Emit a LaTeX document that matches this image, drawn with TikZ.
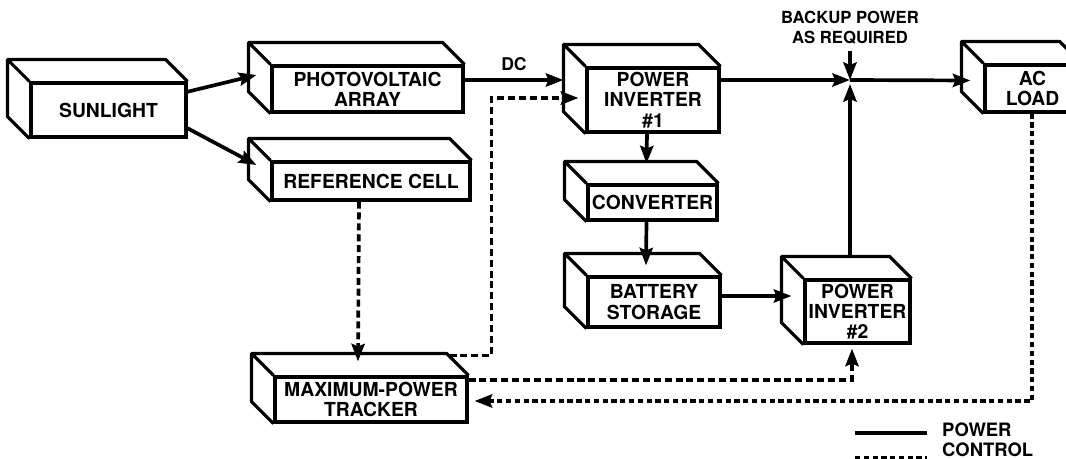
\documentclass[tikz,border=0pt]{standalone}
\usepackage{fontspec}
\setmainfont{TeX Gyre Heros}
\usetikzlibrary{arrows.meta}

\begin{document}
\begin{tikzpicture}[x=0.02cm, y=-0.02cm,
  block/.style={draw, line width=1.8pt, inner sep=0pt, align=center,
    font=\fontsize{11}{11.5}\selectfont\bfseries},
  face/.style={line width=1.8pt, line join=round},
  power/.style={line width=2.1pt, -{Stealth[length=10pt,width=7.5pt,inset=1.5pt]}},
  control/.style={power, dash pattern=on 4pt off 2.2pt},
  lbl/.style={font=\fontsize{9.5}{11.2}\selectfont\bfseries, align=center}]
\useasboundingbox (0,0) rectangle (1066,459);

% front faces of the blocks
\node[block, minimum width=3.10cm, minimum height=1.08cm] (sun) at (108.5,110) {SUNLIGHT};
\node[block, minimum width=3.82cm, minimum height=0.92cm] (pv) at (367.5,89) {PHOTOVOLTAIC\\ARRAY};
\node[block, minimum width=3.96cm, minimum height=0.76cm] (ref) at (371,181) {REFERENCE CELL};
\node[block, minimum width=2.64cm, minimum height=1.28cm] (inv1) at (653,100) {POWER\\INVERTER\\\#1};
\node[block, minimum width=2.58cm, minimum height=0.70cm] (conv) at (652.5,202.5) {CONVERTER};
\node[block, minimum width=2.64cm, minimum height=1.00cm] (bat) at (654,302) {BATTERY\\STORAGE};
\node[block, minimum width=2.10cm, minimum height=1.26cm] (inv2) at (857.5,311.5) {POWER\\INVERTER\\\#2};
\node[block, minimum width=3.84cm, minimum height=0.90cm] (mpt) at (371,399.5) {MAXIMUM-POWER\\TRACKER};
\node[block, minimum width=1.90cm, minimum height=0.94cm] (ac) at (1032.5,88.5) {AC\\LOAD};

% top and side faces
\foreach \n in {sun,pv,ref,inv1,conv,bat,inv2,mpt,ac}
  \draw[face] (\n.south west) -- ++(-22,-22) -- ([shift={(-22,-22)}]\n.north west)
    -- ([shift={(-22,-22)}]\n.north east) -- (\n.north east)
    (\n.north west) -- ++(-22,-22);

\node[lbl] (backup) at (850,28) {BACKUP POWER\\AS REQUIRED};
\coordinate (jn) at (850,80);

% power flow
\draw[power] (sun.13) -- ([shift={(-14,-14)}]pv.west);
\draw[power] (sun.-13) -- ([shift={(-14,-16)}]ref.west);
\draw[power] ([shift={(0,-9)}]pv.east) -- node[lbl, above=1pt, font=\fontsize{10}{11}\selectfont\bfseries] (dc) {DC} ([shift={(-22,-20)}]inv1.west);
\draw[power] ([shift={(0,-20)}]inv1.east) -- (jn);
\draw[power] (backup.south) -- (jn);
\draw[power] (jn) -- ([shift={(-13,-8)}]ac.west);
\draw[power] ([shift={(-7.5,-22)}]inv2.north) -- ([shift={(0,4)}]jn);
\draw[power] ([shift={(-6,0)}]inv1.south) -- ([shift={(-6,-20)}]conv.north);
\draw[power] ([shift={(-6,0)}]conv.south) -- ([shift={(-8,-10)}]bat.north);
\draw[power] ([shift={(0,-6)}]bat.east) -- ([shift={(-12,-15.5)}]inv2.west);

% control signals
\draw[control] ([shift={(-12,0)}]ref.south) -- ([shift={(-13,-14)}]mpt.north);
\draw[control] ([shift={(-19,-20)}]mpt.north east) -- ++(42,0) |- ([shift={(-7,-2)}]inv1.west);
\draw[control] ([shift={(0,-19.5)}]mpt.east) -| ([shift={(-5.5,4)}]inv2.south);
\draw[control, dash pattern=on 3pt off 2pt] ([shift={(-0.5,0)}]ac.south) |- ([shift={(6,1.5)}]mpt.east);

% legend
\node[lbl, anchor=west, font=\fontsize{10.5}{12}\selectfont\bfseries] (pwtxt) at (936,430) {POWER};
\node[lbl, anchor=west, font=\fontsize{10.5}{12}\selectfont\bfseries] (cttxt) at (936,450) {CONTROL};
\coordinate (legp) at (855,433);
\coordinate (legc) at (855,458);
\draw[line width=2.1pt] (legp) -- ++(72,0);
\draw[line width=2.1pt, dash pattern=on 3pt off 2pt] (legc) -- ++(72,0);
\end{tikzpicture}
\end{document}
